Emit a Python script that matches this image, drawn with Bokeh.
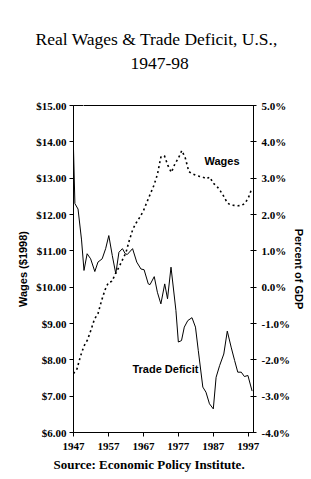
from bokeh.plotting import figure
from bokeh.models import (Range1d, LinearAxis, FixedTicker, NumeralTickFormatter,
                          PrintfTickFormatter, Label, Title)
from bokeh.embed import file_html
from bokeh.resources import INLINE

# ---- data ----
years = list(range(1947, 1999))
wages = [7.62, 7.75, 8.10, 8.38, 8.55, 8.82, 9.12, 9.27, 9.62, 9.92,
         10.13, 10.16, 10.37, 10.55, 10.75, 10.95, 11.30, 11.60, 11.78, 11.93,
         12.10, 12.34, 12.57, 12.80, 13.10, 13.58, 13.62, 13.35, 13.16, 13.39,
         13.55, 13.76, 13.55, 13.18, 13.12, 13.08, 13.05, 13.03, 12.98, 13.03,
         12.86, 12.78, 12.65, 12.50, 12.32, 12.26, 12.25, 12.24, 12.25, 12.30,
         12.45, 12.71]

trade_years = [1947.0, 1947.4, 1948.3, 1949.3, 1950.0, 1950.9, 1951.9, 1953.1, 1954.0,
               1955.2, 1956.2, 1957.1, 1958.1, 1959.1, 1960.0, 1961.0, 1961.8, 1962.4,
               1963.9, 1965.1, 1966.3, 1967.2, 1968.4, 1968.9, 1970.1, 1971.0, 1972.0,
               1973.1, 1973.9, 1974.9, 1976.3, 1977.0, 1977.9, 1978.7, 1979.7, 1980.9,
               1981.9, 1982.7, 1984.0, 1984.9, 1985.9, 1987.0, 1987.8, 1988.8, 1990.0,
               1991.0, 1992.1, 1993.1, 1994.0, 1995.0, 1995.9, 1996.9, 1998.1]
trade_pct = [3.80, 2.30, 2.15, 1.30, 0.46, 0.92, 0.78, 0.43, 0.69,
             0.78, 1.06, 1.42, 0.87, 0.37, 0.96, 1.06, 0.92, 0.90,
             1.06, 0.69, 0.50, 0.48, 0.09, 0.07, 0.29, -0.14, -0.46,
             0.09, -0.32, 0.55, -0.64, -1.51, -1.47, -1.10, -0.92, -0.84,
             -1.10, -1.74, -2.75, -2.89, -3.21, -3.35, -2.48, -2.16, -1.84,
             -1.21, -1.65, -2.02, -2.34, -2.34, -2.46, -2.43, -2.86]

year_ticks = [1947, 1957, 1967, 1977, 1987, 1997]
wage_ticks = [6, 7, 8, 9, 10, 11, 12, 13, 14, 15]
pct_ticks = [-4, -3, -2, -1, 0, 1, 2, 3, 4, 5]

title_line1 = "Real Wages & Trade Deficit, U.S.,"
title_line2 = "1947-98"
source_text = "Source: Economic Policy Institute."
wages_label = "Wages"
trade_label = "Trade Deficit"

SERIF = "Liberation Serif"
SANS = "Liberation Sans"

p = figure(width=311, height=479, output_backend="svg", toolbar_location=None,
           x_range=Range1d(1947, 1998.5), y_range=Range1d(6, 15),
           min_border_left=73, min_border_right=58, min_border_top=105,
           min_border_bottom=47, title=None)
p.extra_y_ranges = {"pct": Range1d(-4, 5)}
p.xgrid.visible = False
p.ygrid.visible = False
p.outline_line_color = "black"
p.outline_line_width = 1
p.background_fill_color = "white"
p.border_fill_color = "white"


def style_axis(ax, tick_in, tick_out, standoff):
    ax.major_label_text_font = SERIF
    ax.major_label_text_font_style = "bold"
    ax.major_label_text_font_size = "11px"
    ax.major_label_text_color = "black"
    ax.major_label_standoff = standoff
    ax.major_tick_in = tick_in
    ax.major_tick_out = tick_out
    ax.minor_tick_in = 0
    ax.minor_tick_out = 0
    ax.axis_line_color = "black"
    ax.major_tick_line_color = "black"
    ax.axis_label_text_font = SANS
    ax.axis_label_text_font_style = "bold"
    ax.axis_label_text_font_size = "11px"
    ax.axis_label_text_color = "black"


# left axis
ya = p.yaxis[0]
ya.ticker = FixedTicker(ticks=wage_ticks)
ya.formatter = NumeralTickFormatter(format="$0.00")
ya.axis_label = "Wages ($1998)"
style_axis(ya, 0, 4, 3)
ya.axis_label_standoff = 4

# right axis
ra = LinearAxis(y_range_name="pct", ticker=FixedTicker(ticks=pct_ticks),
                formatter=PrintfTickFormatter(format="%.1f%%"))
ra.axis_label = "Percent of GDP"
style_axis(ra, 3, 3, 5)
ra.axis_label_standoff = 0
p.add_layout(ra, "right")

# bottom axis
xa = p.xaxis[0]
xa.ticker = FixedTicker(ticks=year_ticks)
style_axis(xa, 0, 4, 6)

# series
p.line(years, wages, line_color="black", line_width=1.6, line_dash="2 3")
p.line(trade_years, trade_pct, y_range_name="pct", line_color="black", line_width=1)

# series labels (data coords)
p.add_layout(Label(x=1989.5, y=13.46, text=wages_label, text_align="center",
                   text_baseline="middle", text_font=SANS, text_font_style="bold",
                   text_font_size="11px", text_color="black"))
p.add_layout(Label(x=1973.3, y=7.74, text=trade_label, text_align="center",
                   text_baseline="middle", text_font=SANS, text_font_style="bold",
                   text_font_size="11px", text_color="black"))

# spacer axis above the frame: one white (invisible) tick, no labels, no line
spacer = LinearAxis(ticker=FixedTicker(ticks=[1950]), axis_line_color=None,
                    major_tick_in=0, major_tick_out=37, minor_tick_in=0,
                    minor_tick_out=0, major_tick_line_color="white",
                    major_label_text_color=None, major_label_text_font_size="0px",
                    major_label_standoff=0)
p.add_layout(spacer, "above")

# title lines (first added sits closest to the frame)
p.add_layout(Title(text=title_line2, align="left", offset=57,
                   vertical_align="bottom", standoff=0, text_font=SERIF,
                   text_font_size="17.5px", text_font_style="normal",
                   text_color="black"), "above")
p.add_layout(Title(text=title_line1, align="left", offset=-38,
                   vertical_align="bottom", standoff=14, text_font=SERIF,
                   text_font_size="17.5px", text_font_style="normal",
                   text_color="black"), "above")

# source note
p.add_layout(Title(text=source_text, align="left", offset=-20,
                   vertical_align="top", standoff=8, text_font=SERIF,
                   text_font_size="13px", text_font_style="bold",
                   text_color="black"), "below")

open("out.html", "w").write(file_html(p, INLINE))
